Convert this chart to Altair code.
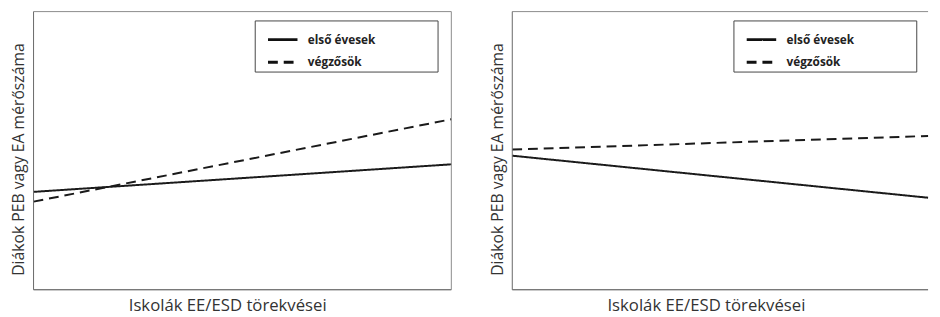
import altair as alt
import pandas as pd

GROUPS = ["első évesek", "végzősök"]
X_LEVELS = [0, 1]
LEFT_FIRST = [3.52, 4.51]
LEFT_FINAL = [3.17, 6.13]
RIGHT_FIRST = [4.82, 3.31]
RIGHT_FINAL = [5.04, 5.53]
X_TITLE = "Iskolák EE/ESD törekvései"
Y_TITLE = "Diákok PEB vagy EA mérőszáma"

FONT = "Open Sans"
H = 283
W_LEFT = 425
W_RIGHT = 423


def frame(first, final):
    rows = []
    for g, vals in zip(GROUPS, [first, final]):
        for xv, yv in zip(X_LEVELS, vals):
            rows.append({"x": xv, "y": yv, "csoport": g})
    return pd.DataFrame(rows)


def rule(color, **enc):
    return alt.Chart(alt.Data(values=[{}])).mark_rule(color=color, strokeWidth=1).encode(**enc)


def panel(df, w, right_border):
    x = alt.X(
        "x:Q",
        scale=alt.Scale(domain=[0, 1], nice=False, zero=False),
        axis=alt.Axis(
            title=X_TITLE, labels=False, ticks=False, domain=False, grid=False,
            titleFont=FONT, titleFontSize=17, titleFontWeight="normal", titleColor="#333333",
            titleX=197, titleY=21, titleBaseline="alphabetic", minExtent=0,
        ),
    )
    y = alt.Y(
        "y:Q",
        scale=alt.Scale(domain=[0, 10], nice=False, zero=False),
        axis=alt.Axis(
            title=Y_TITLE, labels=False, ticks=False, domain=False, grid=False,
            titleFont=FONT, titleFontSize=16, titleFontWeight="normal", titleColor="#333333",
            titleX=-15, titleY=150, titleBaseline="middle", titleAlign="center",
            minExtent=0,
        ),
    )
    lines = alt.Chart(df).mark_line(color="#1a1a1a", strokeWidth=2).encode(
        x=x,
        y=y,
        strokeDash=alt.StrokeDash(
            "csoport:N",
            scale=alt.Scale(domain=GROUPS, range=[[1, 0], [10, 6]]),
            legend=alt.Legend(
                title=" ", titleOrient="right", titlePadding=60, titleFontSize=11,
                orient="none", legendX=225, legendY=9,
                fillColor="white", strokeColor="#444444", padding=3, cornerRadius=0,
                symbolType="stroke", symbolSize=900, symbolStrokeWidth=3, symbolOffset=9,
                symbolStrokeColor="#111111",
                labelFont=FONT, labelFontSize=12, labelFontWeight="bold",
                labelColor="#222222", labelOffset=9, rowPadding=-18,
            ),
        ),
    )
    borders = [
        rule("#8a8a8a", x=alt.value(0), x2=alt.value(w), y=alt.value(0)),
        rule("#404040", x=alt.value(0), x2=alt.value(w), y=alt.value(H)),
        rule("#666666", x=alt.value(0), y=alt.value(0), y2=alt.value(H)),
    ]
    if right_border:
        borders.append(rule("#8a8a8a", x=alt.value(w), y=alt.value(0), y2=alt.value(H)))
    return alt.layer(lines, *borders).properties(width=w, height=H)


left = panel(frame(LEFT_FIRST, LEFT_FINAL), W_LEFT, True)
right = panel(frame(RIGHT_FIRST, RIGHT_FINAL), W_RIGHT, False)

chart = (
    alt.hconcat(left, right, spacing=35)
    .resolve_legend(strokeDash="independent")
    .properties(padding={"left": 3, "top": 0, "right": 0, "bottom": 0}, background="white")
    .configure_view(stroke=None)
)

chart.save("out.html", embed_options={"renderer": "svg", "actions": False})
